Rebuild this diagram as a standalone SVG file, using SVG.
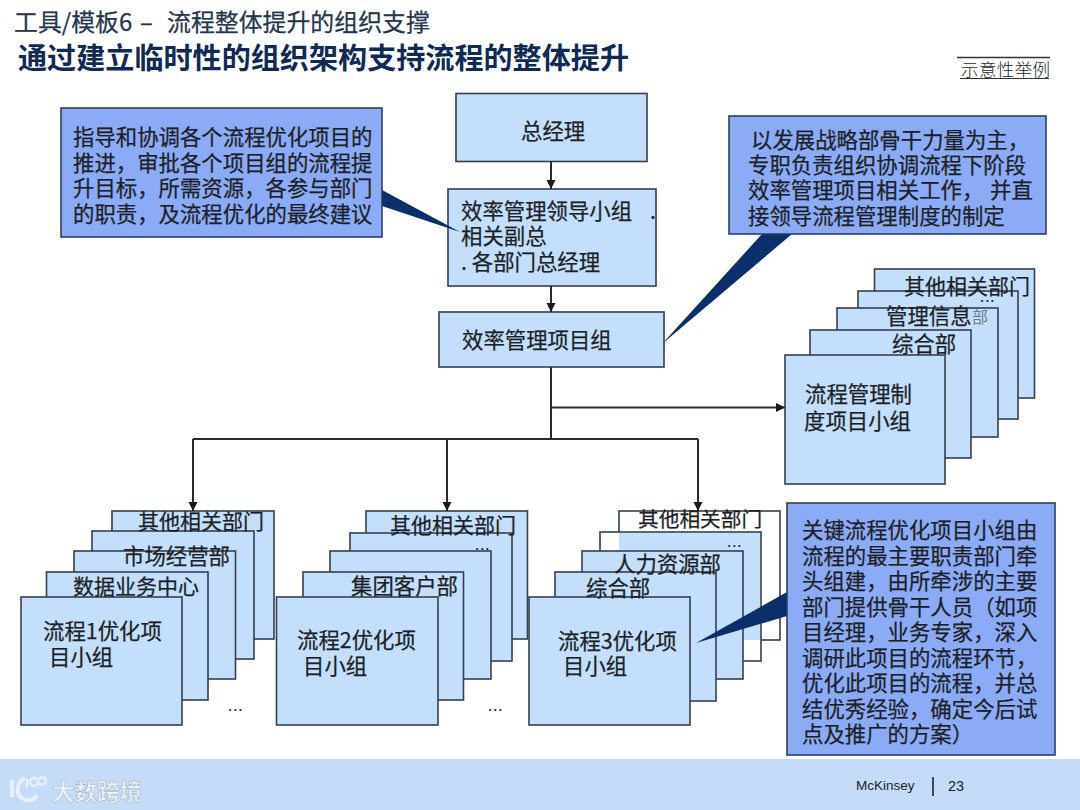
<svg xmlns="http://www.w3.org/2000/svg" width="1080" height="810" viewBox="0 0 1080 810">
<style>
text{font-family:"Noto Sans CJK SC","Noto Sans",sans-serif;fill:#1c1f26;font-size:21.4px;stroke:#1c1f26;stroke-width:.25px}
.n{fill:#c4dffb;stroke:#34404f;stroke-width:1.6}
.w{fill:#fff;stroke:#34404f;stroke-width:1.6}
.c{fill:#8cabf7;stroke:#2b3f66;stroke-width:1.6}
.t{fill:#0a2f6b;stroke:none}
.l{fill:none;stroke:#2a2a2a;stroke-width:2}
.d{font-size:15px;stroke:none;letter-spacing:1px}
.h{font-size:23.9px;fill:#24364f;stroke:#24364f}
.o{font-size:21px}
</style>
<defs><marker id="a" markerUnits="userSpaceOnUse" markerWidth="10" markerHeight="10" refX="9" refY="5" orient="auto"><path d="M0 .5L9 5L0 9.500Z" fill="#1a1a1a"/></marker></defs>
<rect width="1080" height="810" fill="#fff"/>
<g id="header">
<text class="h" x="14" y="31">工具/模板6</text><text class="h" x="140" y="31">–</text><text class="h" x="167" y="31">流程整体提升的组织支撑</text>
<text x="18" y="69" style="font-size:29.100px;font-weight:700;fill:#0f2a55;stroke:none">通过建立临时性的组织架构支持流程的整体提升</text>
<g id="tag"><path d="M957 57.500H1050" stroke="#333" stroke-width="1.500"/><path d="M960 78.500H1049" stroke="#333" stroke-width="1.200"/>
<text x="961" y="76" style="font-size:17.500px;letter-spacing:.4px;stroke:none;font-weight:300">示意性举例</text></g>
</g>

<g id="footer"><rect y="759" width="1080" height="51" fill="#c5dcf8"/>
<g id="logo" fill="none" stroke="#e9f1fb" stroke-width="2.500" opacity=".95"><path d="M12 780V797" stroke-width="4"/><path d="M25 778C15 784 15 797 26 800C31 801 35 799 37 795" stroke-width="4"/><path d="M27 779V788"/><ellipse cx="34" cy="782" rx="4" ry="4"/><ellipse cx="42" cy="781" rx="4" ry="3.500"/></g>
<text x="52" y="800" style="font-size:22.500px;font-weight:700;fill:#eef4fc;stroke:#aab8c9;stroke-width:.6px">大数跨境</text>
<text x="856" y="790" style="font-family:'Liberation Sans',sans-serif;font-size:13.500px;stroke:none">McKinsey</text>
<path d="M933 777V796" stroke="#222" stroke-width="1.600"/>
<text x="948" y="791" style="font-family:'Liberation Sans',sans-serif;font-size:14.500px;stroke:none">23</text>
</g>

<g id="node-gm"><rect class="n" x="456" y="93.500" width="191" height="68"/><text x="521" y="139">总经理</text></g>
<g id="node-lead"><rect class="n" x="448" y="189" width="208" height="97"/>
<text x="461" y="219">效率管理领导小组</text><text x="650" y="219">.</text><text x="461" y="244">相关副总</text><text x="461" y="270">. 各部门总经理</text></g>
<g id="node-proj"><rect class="n" x="439" y="312" width="225" height="55"/><text x="462" y="348">效率管理项目组</text></g>

<g id="stack-r">
<g id="r5"><rect class="n" x="874.500" y="269" width="160" height="129"/></g>
<g id="r4"><rect class="n" x="858" y="291" width="160" height="128"/></g>
<g id="r3"><rect class="n" x="837" y="308" width="161" height="129"/></g>
<g id="r2"><rect class="n" x="810" y="330" width="161" height="128"/></g>
<g id="r1"><rect class="n" x="785" y="355" width="160" height="129"/></g>
<g id="r-labels"><text class="o" x="904" y="294">其他相关部门</text><text class="d" x="980" y="302">...</text><text x="886" y="324">管理信息</text><text x="972" y="323" style="font-size:16px;fill:#6d7a88;stroke:none">部</text><text x="892" y="352">综合部</text><text x="805" y="402">流程管理制</text><text x="804" y="429">度项目小组</text></g>
</g>

<g id="stack-1">
<g id="a5"><rect class="n" x="112" y="511" width="162" height="128"/></g>
<g id="a4"><rect class="n" x="92" y="531" width="162" height="128"/></g>
<g id="a3"><rect class="n" x="74" y="551" width="161.500" height="128"/></g>
<g id="a2"><rect class="n" x="46.500" y="572" width="161.500" height="128"/></g>
<g id="a1"><rect class="n" x="21" y="597" width="161" height="128"/></g>
<g id="a-labels"><text class="o" x="138" y="529">其他相关部门</text><text x="123" y="564">市场经营部</text><text class="o" x="73" y="594">数据业务中心</text><text x="43" y="639">流程1优化项</text><text x="49" y="665">目小组</text><text class="d" x="228" y="711">...</text></g>
</g>

<g id="stack-2">
<g id="b5"><rect class="n" x="366" y="511" width="161.500" height="128"/></g>
<g id="b4"><rect class="n" x="350" y="533" width="162" height="128"/></g>
<g id="b3"><rect class="n" x="330" y="551" width="161" height="128"/></g>
<g id="b2"><rect class="n" x="303" y="572" width="160.500" height="128"/></g>
<g id="b1"><rect class="n" x="276.500" y="597" width="161.500" height="128"/></g>
<g id="b-labels"><text class="o" x="390" y="533">其他相关部门</text><text class="d" x="475" y="550">...</text><text x="351" y="594">集团客户部</text><text x="297" y="648">流程2优化项</text><text x="303" y="674">目小组</text><text class="d" x="488" y="711">...</text></g>
</g>

<g id="stack-3">
<g id="c5"><rect class="w" x="619" y="511" width="161" height="129"/></g>
<g id="c4"><rect class="w" x="600" y="532" width="161" height="129"/><rect x="619" y="533" width="141" height="107" fill="#c4dffb"/></g>
<g id="c3"><rect class="n" x="582" y="551" width="161" height="128"/></g>
<g id="c2"><rect class="n" x="555" y="572" width="161" height="129"/></g>
<g id="c1"><rect class="n" x="529" y="597" width="161" height="128"/></g>
<g id="c-labels"><text x="638" y="527" style="font-size:20.700px">其他相关部门</text><text class="d" x="727" y="547">...</text><text x="614" y="572">人力资源部</text><text x="586" y="596">综合部</text><text x="558" y="649">流程3优化项</text><text x="563" y="674">目小组</text></g>
</g>

<g id="connectors">
<path class="l" marker-end="url(#a)" d="M551 161V189"/>
<path class="l" marker-end="url(#a)" d="M551 286V312"/>
<path class="l" d="M551 367V439"/>
<path class="l" marker-end="url(#a)" d="M551 407.500H785"/>
<path class="l" d="M193 439H698"/>
<path class="l" marker-end="url(#a)" d="M193 439V511"/>
<path class="l" marker-end="url(#a)" d="M447 439V511"/>
<path class="l" marker-end="url(#a)" d="M698 439V511"/>
</g>

<g id="callout-left"><path class="t" d="M382 190L460 232L382 206Z"/><rect class="c" x="61" y="108" width="321" height="129"/>
<text x="73" y="145">指导和协调各个流程优化项目的</text><text x="73" y="171">推进，审批各个项目组的流程提</text><text x="73" y="196">升目标，所需资源，各参与部门</text><text x="73" y="222">的职责，及流程优化的最终建议</text></g>
<g id="callout-right"><path class="t" d="M762 234L662 344L792 234Z"/><rect class="c" x="729" y="116" width="317" height="118"/>
<text x="751" y="148">以发展战略部骨干力量为主，</text><text x="748" y="173">专职负责组织协调流程下阶段</text><text x="748" y="198">效率管理项目相关工作，</text><text x="990" y="198">并直</text><text x="748" y="224">接领导流程管理制度的制定</text></g>
<g id="callout-bottom"><path class="t" d="M787 592L696 643L787 616Z"/><rect class="c" x="787" y="503" width="268" height="252"/>
<text x="802" y="538">关键流程优化项目小组由</text><text x="802" y="564">流程的最主要职责部门牵</text><text x="802" y="589">头组建，由所牵涉的主要</text><text x="802" y="615">部门提供骨干人员（如项</text><text x="802" y="640">目经理，业务专家，深入</text><text x="802" y="666">调研此项目的流程环节，</text><text x="802" y="691">优化此项目的流程，并总</text><text x="802" y="717">结优秀经验，确定今后试</text><text x="802" y="742">点及推广的方案）</text></g>
</svg>
